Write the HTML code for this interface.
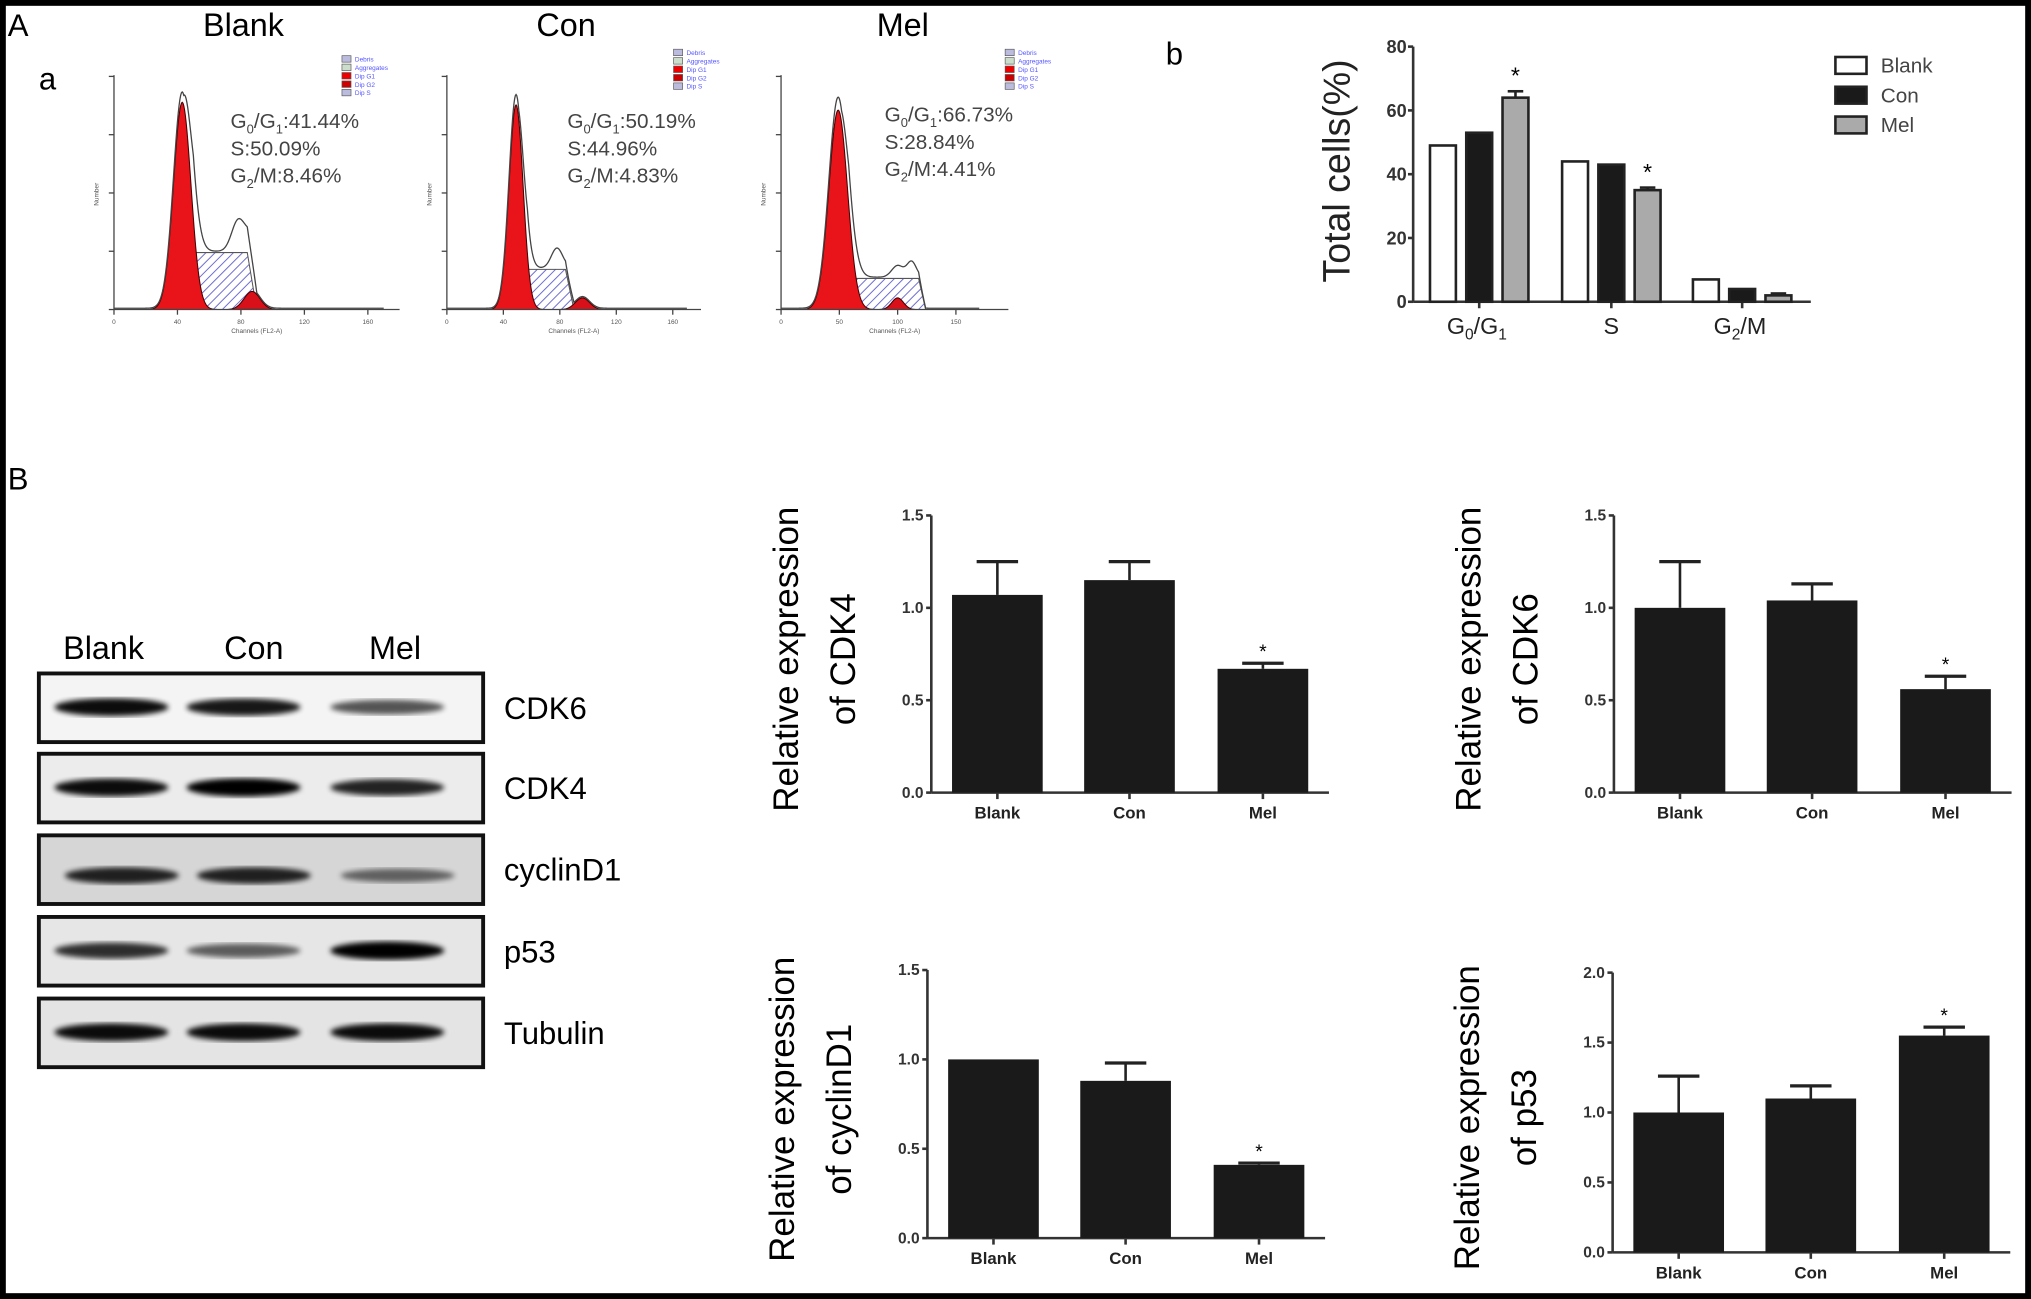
<!DOCTYPE html>
<html><head><meta charset="utf-8"><style>
html,body{margin:0;padding:0;background:#fff;}
svg{display:block;font-family:"Liberation Sans",Arial,sans-serif;}
</style></head><body>
<svg id="fig" width="2031" height="1299" viewBox="0 0 1568 1003" preserveAspectRatio="none" xmlns="http://www.w3.org/2000/svg">
<defs>
<pattern id="hatch" width="5" height="5" patternUnits="userSpaceOnUse" patternTransform="rotate(45)">
<rect width="5" height="5" fill="#fff"/><line x1="0" y1="0" x2="0" y2="5" stroke="#6a6ad0" stroke-width="1.5"/></pattern>
<filter id="blur"><feGaussianBlur stdDeviation="2"/></filter>
</defs>
<rect x="0" y="0" width="1568" height="1003" fill="#fff"/>
<rect x="2" y="2" width="1564" height="999" fill="none" stroke="#000" stroke-width="5"/>
<g id="main"></g>
</svg>
<script>
// ---------- data ----------
const groups=["Blank","Con","Mel"];
const histG1=[41.44,50.19,66.73];
const histS=[50.09,44.96,28.84];
const histG2=[8.46,4.83,4.41];
// histogram shape descriptors (channels / counts)
const histPeakChan=[43,49,49];
const histPeakSigma=[5.5,5,8];
const histPeakCount=[159,157,155];
const histRedCount=[160,158,154];
const histSStart=[50,57,58];
const histSEnd=[84,84,118];
const histSCount=[44,31,24];
const histG2Chan=[87,96,100];
const histG2Count=[14,9,9];
const histTickStep=[40,40,50];
// panel b
const phaseCats=["G0/G1","S","G2/M"];
const phaseBlank=[49,44,7];
const phaseCon=[53,43,4];
const phaseMel=[64,35,2];
const phaseMelErr=[66,35.8,2.6];
const phaseTicks=[0,20,40,60,80];
// western blot intensities
const blotProteins=["CDK6","CDK4","cyclinD1","p53","Tubulin"];
const blotCDK6=[0.95,0.9,0.65];
const blotCDK4=[0.95,1,0.85];
const blotCyclin=[0.85,0.85,0.55];
const blotP53=[0.8,0.6,1];
const blotTub=[0.95,0.95,0.95];
// expression bar charts
const cdk4Vals=[1.07,1.15,0.67], cdk4Err=[1.25,1.25,0.70];
const cdk6Vals=[1.0,1.04,0.56], cdk6Err=[1.25,1.13,0.63];
const cycVals=[1.0,0.88,0.41], cycErr=[1.0,0.98,0.42];
const p53Vals=[1.0,1.1,1.55], p53Err=[1.26,1.19,1.61];
const ticks15=[0,0.5,1.0,1.5];
const ticks20=[0,0.5,1.0,1.5,2.0];

const NS="http://www.w3.org/2000/svg";
const main=document.getElementById('main');
function mk(tag,attrs,parent,text){const e=document.createElementNS(NS,tag);for(const k in attrs)e.setAttribute(k,attrs[k]);if(text!==undefined)e.textContent=text;(parent||main).appendChild(e);return e;}

// ---------- labels ----------
let t;
t=mk('text',{x:6,y:28,'font-size':24},main,'A');
t=mk('text',{x:30,y:69,'font-size':24},main,'a');
t=mk('text',{x:900,y:50,'font-size':24},main,'b');
t=mk('text',{x:6,y:378,'font-size':24},main,'B');
const histTitleX=[188,437,697];
groups.forEach((g,i)=>{t=mk('text',{x:histTitleX[i],y:28,'font-size':25,'text-anchor':'middle'},main,g);});

// ---------- histograms ----------
const histAxisX=[88,345,603];
const histPxPerChan=[1.225,1.09,0.9];
const histTextX=[178,438,683];
const histTextY=[99,99,94];
groups.forEach((g,i)=>{
 const ax=histAxisX[i], base=239, k=histPxPerChan[i];
 const xs=c=>ax+c*k, ys=n=>base-n;
 const G=mk('g',{});
 const gau=(c,mu,s,h)=>h*Math.exp(-0.5*((c-mu)/s)**2);
 const sg=histPeakSigma[i];
 const sFn=c=>{if(c<histSStart[i]-6||c>histSEnd[i]+6)return 0;let v=histSCount[i];if(c<histSStart[i])v*=(c-histSStart[i]+6)/6;if(c>histSEnd[i])v*=(histSEnd[i]+6-c)/6;return v;};
 let dS=`M${xs(histSStart[i]-6)},${base}`,dG1=`M${xs(histPeakChan[i]-4*sg)},${base}`,dG2='',dO='';
 for(let c=histSStart[i]-6;c<=histSEnd[i]+6;c+=0.5)dS+=` L${xs(c)},${ys(sFn(c))}`;
 dS+=` L${xs(histSEnd[i]+6)},${base} Z`;
 for(let c=histPeakChan[i]-4*sg;c<=histPeakChan[i]+4*sg;c+=0.5)dG1+=` L${xs(c)},${ys(gau(c,histPeakChan[i],sg,histRedCount[i]))}`;
 dG1+=' Z';
 dG2=`M${xs(histG2Chan[i]-15)},${base}`;
 for(let c=histG2Chan[i]-15;c<=histG2Chan[i]+15;c+=0.5)dG2+=` L${xs(c)},${ys(gau(c,histG2Chan[i],5,histG2Count[i]))}`;
 dG2+=' Z';
 for(let c=0;c<=170;c+=0.5){const v=gau(c,histPeakChan[i],sg,histPeakCount[i]+8)+sFn(c)+gau(c,histG2Chan[i],5,histG2Count[i])+gau(c,histSEnd[i]-6,4,histSCount[i]*0.5);dO+=(c==0?'M':' L')+xs(c)+','+ys(Math.min(v,200)+1);}
 mk('path',{d:dS,fill:'url(#hatch)',stroke:'#555','stroke-width':0.8},G);
 mk('path',{d:dG1,fill:'#e8141a',stroke:'#400','stroke-width':0.8},G);
 mk('path',{d:dG2,fill:'#d8101a',stroke:'#400','stroke-width':0.8},G);
 mk('path',{d:dO,fill:'none',stroke:'#444','stroke-width':1},G);
 const w=k*(i==2?195:180);
 mk('line',{x1:ax,y1:58,x2:ax,y2:base,stroke:'#444','stroke-width':1},G);
 mk('line',{x1:ax,y1:base,x2:ax+w,y2:base,stroke:'#444','stroke-width':1},G);
 for(let c=0;c*k<=w;c+=histTickStep[i]){const xx=xs(c);mk('line',{x1:xx,y1:base,x2:xx,y2:base+4,stroke:'#444'},G);mk('text',{x:xx,y:base+11,'font-size':5,'text-anchor':'middle',fill:'#555'},G,String(c));}
 for(let n=0;n<=180;n+=45){mk('line',{x1:ax-4,y1:ys(n),x2:ax,y2:ys(n),stroke:'#444'},G);}
 mk('text',{x:ax+w/2,y:base+18,'font-size':5,'text-anchor':'middle',fill:'#555'},G,'Channels (FL2-A)');
 mk('text',{x:ax-12,y:150,'font-size':5,'text-anchor':'middle',fill:'#555',transform:`rotate(-90 ${ax-12} 150)`},G,'Number');
 const lx=[264,520,776][i], ly=[43,38,38][i], lcols=['#bbd','#cdc','#e00','#c00','#bbd'], lnames=['Debris','Aggregates','Dip G1','Dip G2','Dip S'];
 lcols.forEach((c,q)=>{mk('rect',{x:lx,y:ly+q*6.5,width:7,height:5,fill:c,stroke:'#555','stroke-width':0.5},G);mk('text',{x:lx+10,y:ly+4.5+q*6.5,'font-size':5,fill:'#55f'},G,lnames[q]);});
 const tx=histTextX[i], ty=histTextY[i];
 const T=mk('text',{x:tx,y:ty,'font-size':16,fill:'#444'},G);
 T.innerHTML=`<tspan>G</tspan><tspan font-size="10" dy="4">0</tspan><tspan dy="-4">/G</tspan><tspan font-size="10" dy="4">1</tspan><tspan dy="-4">:${histG1[i].toFixed(2)}%</tspan>`;
 mk('text',{x:tx,y:ty+21,'font-size':16,fill:'#444'},G,'S:'+histS[i].toFixed(2)+'%');
 const T3=mk('text',{x:tx,y:ty+42,'font-size':16,fill:'#444'},G);
 T3.innerHTML=`<tspan>G</tspan><tspan font-size="10" dy="4">2</tspan><tspan dy="-4">/M:${histG2[i].toFixed(2)}%</tspan>`;
});

// ---------- panel b ----------
(function(){
 const G=mk('g',{});
 const ax=1091,y0=233,y80=36;
 const ys=v=>y0-(v/80)*(y0-y80);
 mk('line',{x1:ax,y1:y80,x2:ax,y2:y0,stroke:'#333','stroke-width':2},G);
 mk('line',{x1:ax,y1:y0,x2:1398,y2:y0,stroke:'#333','stroke-width':2},G);
 phaseTicks.forEach(v=>{mk('line',{x1:ax-4,y1:ys(v),x2:ax,y2:ys(v),stroke:'#333','stroke-width':2},G);mk('text',{x:ax-5,y:ys(v)+5,'font-size':14,'font-weight':'bold','text-anchor':'end',fill:'#333'},G,String(v));});
 const catX=[1142,1244,1345], bw=20, gap=28;
 const series=[[phaseBlank,'#fff'],[phaseCon,'#1a1a1a'],[phaseMel,'#aaa']];
 phaseCats.forEach((c,i)=>{
  mk('line',{x1:catX[i],y1:y0,x2:catX[i],y2:y0+5,stroke:'#333','stroke-width':2},G);
  series.forEach((s,j)=>{const x=catX[i]+(j-1)*gap-bw/2;const r=mk('rect',{x:x,y:ys(s[0][i]),width:bw,height:y0-ys(s[0][i]),fill:s[1],stroke:'#222','stroke-width':2},G);});
  const mx=catX[i]+gap;
  mk('line',{x1:mx,y1:ys(phaseMel[i]),x2:mx,y2:ys(phaseMelErr[i]),stroke:'#222','stroke-width':2},G);
  mk('line',{x1:mx-6,y1:ys(phaseMelErr[i]),x2:mx+6,y2:ys(phaseMelErr[i]),stroke:'#222','stroke-width':2},G);
  if(i<2)mk('text',{x:mx,y:ys(phaseMelErr[i])-6,'font-size':18,'text-anchor':'middle'},G,'*');
 });
 const L=mk('text',{x:catX[0]-25,y:258,'font-size':18,fill:'#222'},G);L.innerHTML='G<tspan font-size="12" dy="4">0</tspan><tspan dy="-4">/G</tspan><tspan font-size="12" dy="4">1</tspan>';
 mk('text',{x:catX[1],y:258,'font-size':18,'text-anchor':'middle',fill:'#222'},G,'S');
 const L3=mk('text',{x:catX[2]-22,y:258,'font-size':18,fill:'#222'},G);L3.innerHTML='G<tspan font-size="12" dy="4">2</tspan><tspan dy="-4">/M</tspan>';
 mk('text',{x:1042,y:132,'font-size':29,'text-anchor':'middle',fill:'#222',transform:'rotate(-90 1042 132)'},G,'Total cells(%)');
 const lcol=['#fff','#1a1a1a','#aaa'];
 groups.forEach((g,k)=>{mk('rect',{x:1417,y:44+k*23,width:24,height:13,fill:lcol[k],stroke:'#222','stroke-width':2},G);mk('text',{x:1452,y:56+k*23,'font-size':16,fill:'#444'},G,g);});
})();

// ---------- western blot ----------
(function(){
 const G=mk('g',{});
 const laneX=[86,188,299],laneLblX=[80,196,305];
 groups.forEach((g,i)=>mk('text',{x:laneLblX[i],y:509,'font-size':25,'text-anchor':'middle'},G,g));
 const rows=[blotCDK6,blotCDK4,blotCyclin,blotP53,blotTub];
 const rowTop=[520,582,645,708,771], bgs=['#f4f4f4','#ececec','#d6d6d6','#e6e6e6','#e4e4e4'];
 rows.forEach((r,k)=>{
  const y=rowTop[k];
  mk('rect',{x:30,y:y,width:343,height:53,fill:bgs[k],stroke:'#111','stroke-width':3},G);
  r.forEach((v,i)=>{const e=mk('ellipse',{cx:laneX[i]+(k==2?8:0),cy:y+26+(k==2?5:0),rx:44,ry:3+v*4,fill:'#000',opacity:v,filter:'url(#blur)'},G);});
  mk('text',{x:389,y:y+35,'font-size':24},G,blotProteins[k]);
 });
})();

// ---------- expression charts ----------
function barChart(name,ax,yTop,y0,vmax,ticks,vals,errs,label){
 const G=mk('g',{});
 const ys=v=>y0-(v/vmax)*(y0-yTop);
 mk('line',{x1:ax,y1:yTop,x2:ax,y2:y0,stroke:'#333','stroke-width':2},G);
 mk('line',{x1:ax,y1:y0,x2:ax+307,y2:y0,stroke:'#333','stroke-width':2},G);
 ticks.forEach(v=>{mk('line',{x1:ax-4,y1:ys(v),x2:ax,y2:ys(v),stroke:'#333','stroke-width':2},G);mk('text',{x:ax-6,y:ys(v)+4,'font-size':12,'font-weight':'bold','text-anchor':'end',fill:'#333'},G,v.toFixed(1));});
 const cx=[ax+51,ax+153,ax+256];
 vals.forEach((v,i)=>{
  const r=mk('rect',{x:cx[i]-35,y:ys(v),width:70,height:y0-ys(v),fill:'#1a1a1a'},G);
  mk('line',{x1:cx[i],y1:y0,x2:cx[i],y2:y0+5,stroke:'#333','stroke-width':2},G);
  if(errs[i]>v){mk('line',{x1:cx[i],y1:ys(v),x2:cx[i],y2:ys(errs[i]),stroke:'#222','stroke-width':2},G);mk('line',{x1:cx[i]-16,y1:ys(errs[i]),x2:cx[i]+16,y2:ys(errs[i]),stroke:'#222','stroke-width':2.5},G);}
  mk('text',{x:cx[i],y:y0+20,'font-size':13,'font-weight':'bold','text-anchor':'middle',fill:'#222'},G,groups[i]);
 });
 mk('text',{x:cx[2],y:ys(errs[2])-4,'font-size':15,'text-anchor':'middle'},G,'*');
 const my=(yTop+y0)/2+4;
 mk('text',{x:ax-103,y:my,'font-size':27,'text-anchor':'middle',transform:`rotate(-90 ${ax-103} ${my})`},G,'Relative expression');
 mk('text',{x:ax-59,y:my,'font-size':27,'text-anchor':'middle',transform:`rotate(-90 ${ax-59} ${my})`},G,'of '+label);
}
barChart('cdk4-chart',719,398,612,1.5,ticks15,cdk4Vals,cdk4Err,'CDK4');
barChart('cdk6-chart',1246,398,612,1.5,ticks15,cdk6Vals,cdk6Err,'CDK6');
barChart('cyclind1-chart',716,749,956,1.5,ticks15,cycVals,cycErr,'cyclinD1');
barChart('p53-chart',1245,751,967,2.0,ticks20,p53Vals,p53Err,'p53');
</script>
</body></html>
